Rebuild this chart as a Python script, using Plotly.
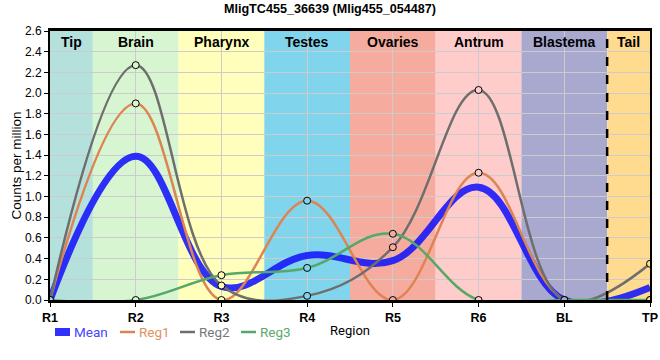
import plotly.graph_objects as go

regions = ["R1", "R2", "R3", "R4", "R5", "R6", "BL", "TP"]
mean = [0.0, 1.39, 0.13, 0.43, 0.38, 1.09, 0.0, 0.12]
reg1 = [0.0, 1.90, 0.0, 0.96, 0.0, 1.23, 0.0, 0.0]
reg2 = [0.0, 2.27, 0.14, 0.04, 0.51, 2.03, 0.0, 0.35]
reg3 = [0.0, 0.0, 0.24, 0.31, 0.64, 0.0, 0.0, 0.0]

tissues = ["Tip", "Brain", "Pharynx", "Testes", "Ovaries", "Antrum", "Blastema", "Tail"]
tissue_colors = ["#b4e1dc", "#d7f5d0", "#ffffbb", "#80d4ec", "#f5ac9e", "#ffcccc", "#a9a8cf", "#ffdb8f"]

series_names = ["Mean", "Reg1", "Reg2", "Reg3"]
series_colors = ["rgba(20,20,250,0.88)", "#dd8452", "#6e6e6e", "#55a868"]
legend_text_colors = ["#4646ff", "#e0915f", "#777777", "#5aaa6c"]

x = list(range(len(regions)))
n = len(regions)
SMOOTH = 1.1

# plot area geometry (px)
L, R, T, B, W, H = 50, 10, 31, 60, 660, 360
pw, ph = W - L - R, H - T - B

fig = go.Figure()
fig.add_trace(go.Scatter(
    x=x, y=mean, name="Mean", mode="lines", showlegend=False,
    line=dict(color=series_colors[0], width=7, shape="spline", smoothing=SMOOTH),
))
for name, vals, col in zip(series_names[1:], [reg1, reg2, reg3], series_colors[1:]):
    fig.add_trace(go.Scatter(
        x=x, y=vals, name=name, mode="lines+markers", showlegend=False,
        line=dict(color=col, width=2.5, shape="spline", smoothing=SMOOTH),
        marker=dict(size=7, color=tissue_colors, line=dict(color="black", width=1)),
    ))

shapes = []
annotations = []
for i, (t, c) in enumerate(zip(tissues, tissue_colors)):
    x0 = max(i - 0.5, 0)
    x1 = min(i + 0.5, n - 1)
    shapes.append(dict(type="rect", xref="x", yref="paper", x0=x0, x1=x1, y0=0, y1=1,
                       fillcolor=c, line=dict(width=0), layer="below"))
    annotations.append(dict(x=(x0 + x1) / 2, y=1, xref="x", yref="paper", text=f"<b>{t}</b>",
                            showarrow=False, yanchor="top", yshift=-1,
                            font=dict(family="Liberation Sans", size=14, color="black")))
shapes.append(dict(type="line", xref="x", yref="paper", x0=n - 1.5, x1=n - 1.5, y0=0, y1=1,
                   line=dict(color="black", width=2.5, dash="dash"), layer="above"))

# compact legend drawn below the plot (left part)
leg_y = (ph + T - 332) / ph  # paper y for legend row
leg_starts = [55, 120, 180, 241]
for k, (nm, col, tcol) in enumerate(zip(series_names, series_colors, legend_text_colors)):
    px0 = leg_starts[k]
    shapes.append(dict(type="line", xref="paper", yref="paper",
                       x0=(px0 - L) / pw, x1=(px0 + 15 - L) / pw, y0=leg_y, y1=leg_y,
                       line=dict(color=col, width=8 if k == 0 else 2.5), layer="above"))
    annotations.append(dict(x=(px0 + 17 - L) / pw, y=leg_y, xref="paper", yref="paper",
                            text=nm, showarrow=False, xanchor="left", yanchor="middle",
                            font=dict(family="Roboto", size=13.5, color=tcol)))

fig.update_layout(
    width=W, height=H,
    margin=dict(l=L, r=R, t=T, b=B),
    paper_bgcolor="white", plot_bgcolor="white",
    title=dict(text="<b>MligTC455_36639 (Mlig455_054487)</b>", x=0.5, xref="container", xanchor="center",
               y=1 - 9 / H, yanchor="middle",
               font=dict(family="Liberation Sans", size=12.6, color="black")),
    font=dict(family="Liberation Sans", size=12, color="black"),
    shapes=shapes, annotations=annotations,
    showlegend=False,
)
fig.update_xaxes(
    range=[0, n - 1], tickvals=x, ticktext=[f"<b>{r}</b>" for r in regions],
    showgrid=True, gridcolor="#cccccc", gridwidth=1,
    showline=True, linecolor="black", linewidth=2.5, mirror=True,
    ticks="outside", ticklen=4, tickcolor="black",
    tickfont=dict(family="Liberation Sans", size=12.5, color="black"),
    title=dict(text="Region", font=dict(family="Roboto", size=13, color="black"), standoff=3),
    zeroline=False, automargin=False,
)
fig.update_yaxes(
    range=[0, 2.6], dtick=0.2, tickformat=".1f",
    showgrid=True, gridcolor="#cccccc", gridwidth=1,
    showline=True, linecolor="black", linewidth=2, mirror=True,
    ticks="outside", ticklen=4, tickcolor="black",
    tickfont=dict(family="Liberation Sans", size=12, color="black"),
    title=dict(text="Counts per million", font=dict(family="Liberation Sans", size=13.5, color="black"), standoff=0),
    zeroline=False, automargin=False,
)

fig.write_html("out.html", config={"displayModeBar": False},
               post_script="document.body.style.margin='0';")
